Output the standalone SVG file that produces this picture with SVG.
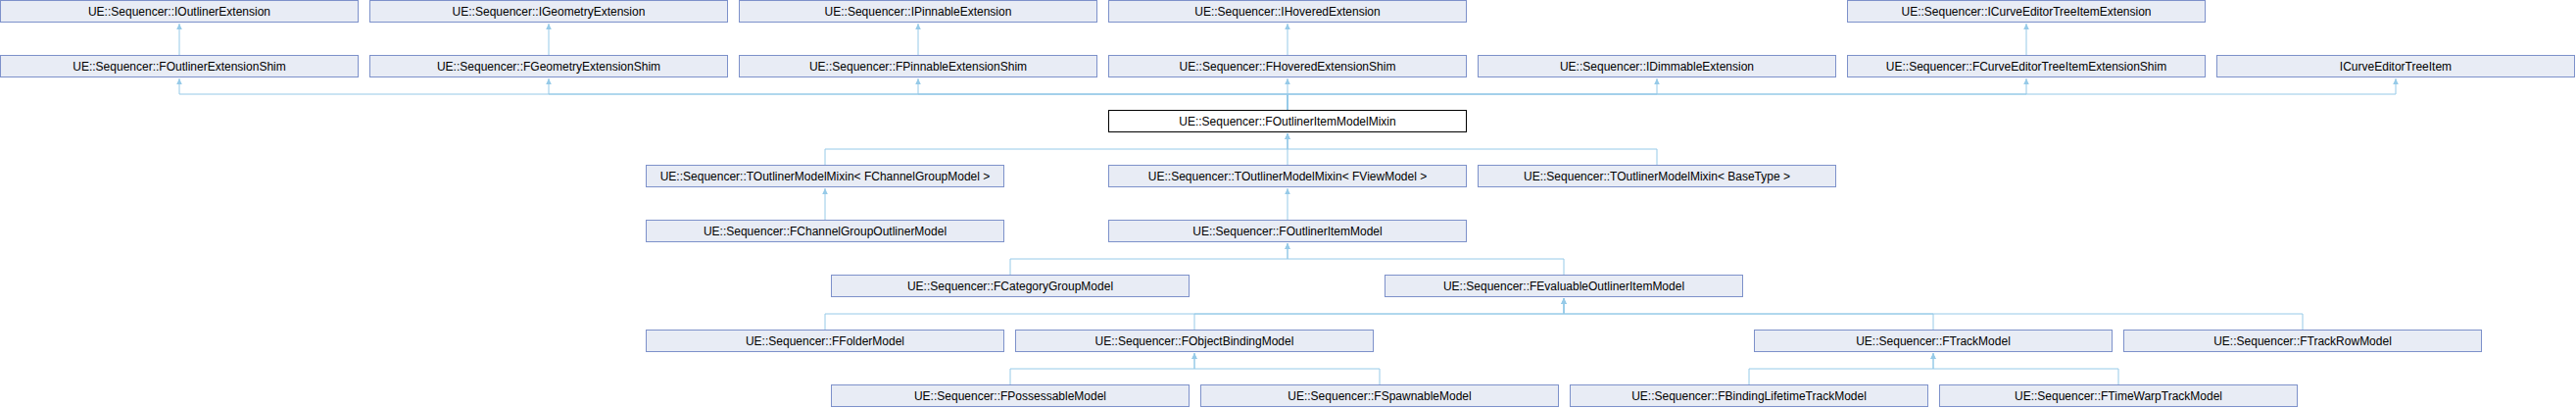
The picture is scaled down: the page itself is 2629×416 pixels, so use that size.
<svg xmlns="http://www.w3.org/2000/svg" width="2629" height="416" viewBox="0 0 2629 416">
<style>
.n rect{fill:#E8ECF5;stroke:#7D91CA;stroke-width:1}
.cur rect{fill:#FFFFFF;stroke:#000000;stroke-width:1}
text{font-family:"Liberation Sans",Arial,sans-serif;font-size:12px;fill:#000;text-anchor:middle}
#edges path{fill:none;stroke:#96CAE8;stroke-width:1;marker-end:url(#ah)}
</style>
<defs>
<marker id="ah" markerUnits="userSpaceOnUse" markerWidth="6" markerHeight="6" viewBox="0 0 6 6" refX="6" refY="3" orient="auto">
<path d="M0,0.2 L6,3 L0,5.8 z" fill="#96CAE8"/>
</marker>
</defs>
<rect width="2629" height="416" fill="#FFFFFF"/>
<g id="edges">
<path d="M183,56.5 V24"/>
<path d="M560,56.5 V24"/>
<path d="M937,56.5 V24"/>
<path d="M1314,56.5 V24"/>
<path d="M2068,56.5 V24"/>
<path d="M1314,112.5 V96 H183 V80"/>
<path d="M1314,112.5 V96 H560 V80"/>
<path d="M1314,112.5 V96 H937 V80"/>
<path d="M1314,112.5 V80"/>
<path d="M1314,112.5 V96 H1691 V80"/>
<path d="M1314,112.5 V96 H2068 V80"/>
<path d="M1314,112.5 V96 H2445 V80"/>
<path d="M842,168.5 V152 H1314 V136"/>
<path d="M1314,168.5 V136"/>
<path d="M1691,168.5 V152 H1314 V136"/>
<path d="M842,224.5 V192"/>
<path d="M1314,224.5 V192"/>
<path d="M1031,280.5 V264 H1314 V248"/>
<path d="M1596,280.5 V264 H1314 V248"/>
<path d="M842,336.5 V320 H1596 V304"/>
<path d="M1219,336.5 V320 H1596 V304"/>
<path d="M1973,336.5 V320 H1596 V304"/>
<path d="M2350,336.5 V320 H1596 V304"/>
<path d="M1031,392.5 V376 H1219 V360"/>
<path d="M1408,392.5 V376 H1219 V360"/>
<path d="M1785,392.5 V376 H1973 V360"/>
<path d="M2162,392.5 V376 H1973 V360"/>
</g>
<g id="IOutlinerExtension" class="n"><rect x="0.5" y="0.5" width="365" height="22"/><text x="183" y="16">UE::Sequencer::IOutlinerExtension</text></g>
<g id="IGeometryExtension" class="n"><rect x="377.5" y="0.5" width="365" height="22"/><text x="560" y="16">UE::Sequencer::IGeometryExtension</text></g>
<g id="IPinnableExtension" class="n"><rect x="754.5" y="0.5" width="365" height="22"/><text x="937" y="16">UE::Sequencer::IPinnableExtension</text></g>
<g id="IHoveredExtension" class="n"><rect x="1131.5" y="0.5" width="365" height="22"/><text x="1314" y="16">UE::Sequencer::IHoveredExtension</text></g>
<g id="ICurveEditorTreeItemExtension" class="n"><rect x="1885.5" y="0.5" width="365" height="22"/><text x="2068" y="16">UE::Sequencer::ICurveEditorTreeItemExtension</text></g>
<g id="FOutlinerExtensionShim" class="n"><rect x="0.5" y="56.5" width="365" height="22"/><text x="183" y="72">UE::Sequencer::FOutlinerExtensionShim</text></g>
<g id="FGeometryExtensionShim" class="n"><rect x="377.5" y="56.5" width="365" height="22"/><text x="560" y="72">UE::Sequencer::FGeometryExtensionShim</text></g>
<g id="FPinnableExtensionShim" class="n"><rect x="754.5" y="56.5" width="365" height="22"/><text x="937" y="72">UE::Sequencer::FPinnableExtensionShim</text></g>
<g id="FHoveredExtensionShim" class="n"><rect x="1131.5" y="56.5" width="365" height="22"/><text x="1314" y="72">UE::Sequencer::FHoveredExtensionShim</text></g>
<g id="IDimmableExtension" class="n"><rect x="1508.5" y="56.5" width="365" height="22"/><text x="1691" y="72">UE::Sequencer::IDimmableExtension</text></g>
<g id="FCurveEditorTreeItemExtensionShim" class="n"><rect x="1885.5" y="56.5" width="365" height="22"/><text x="2068" y="72">UE::Sequencer::FCurveEditorTreeItemExtensionShim</text></g>
<g id="ICurveEditorTreeItem" class="n"><rect x="2262.5" y="56.5" width="365" height="22"/><text x="2445" y="72">ICurveEditorTreeItem</text></g>
<g id="FOutlinerItemModelMixin" class="cur"><rect x="1131.5" y="112.5" width="365" height="22"/><text x="1314" y="128">UE::Sequencer::FOutlinerItemModelMixin</text></g>
<g id="TOutlinerModelMixin_FChannelGroupModel" class="n"><rect x="659.5" y="168.5" width="365" height="22"/><text x="842" y="184">UE::Sequencer::TOutlinerModelMixin&lt; FChannelGroupModel &gt;</text></g>
<g id="TOutlinerModelMixin_FViewModel" class="n"><rect x="1131.5" y="168.5" width="365" height="22"/><text x="1314" y="184">UE::Sequencer::TOutlinerModelMixin&lt; FViewModel &gt;</text></g>
<g id="TOutlinerModelMixin_BaseType" class="n"><rect x="1508.5" y="168.5" width="365" height="22"/><text x="1691" y="184">UE::Sequencer::TOutlinerModelMixin&lt; BaseType &gt;</text></g>
<g id="FChannelGroupOutlinerModel" class="n"><rect x="659.5" y="224.5" width="365" height="22"/><text x="842" y="240">UE::Sequencer::FChannelGroupOutlinerModel</text></g>
<g id="FOutlinerItemModel" class="n"><rect x="1131.5" y="224.5" width="365" height="22"/><text x="1314" y="240">UE::Sequencer::FOutlinerItemModel</text></g>
<g id="FCategoryGroupModel" class="n"><rect x="848.5" y="280.5" width="365" height="22"/><text x="1031" y="296">UE::Sequencer::FCategoryGroupModel</text></g>
<g id="FEvaluableOutlinerItemModel" class="n"><rect x="1413.5" y="280.5" width="365" height="22"/><text x="1596" y="296">UE::Sequencer::FEvaluableOutlinerItemModel</text></g>
<g id="FFolderModel" class="n"><rect x="659.5" y="336.5" width="365" height="22"/><text x="842" y="352">UE::Sequencer::FFolderModel</text></g>
<g id="FObjectBindingModel" class="n"><rect x="1036.5" y="336.5" width="365" height="22"/><text x="1219" y="352">UE::Sequencer::FObjectBindingModel</text></g>
<g id="FTrackModel" class="n"><rect x="1790.5" y="336.5" width="365" height="22"/><text x="1973" y="352">UE::Sequencer::FTrackModel</text></g>
<g id="FTrackRowModel" class="n"><rect x="2167.5" y="336.5" width="365" height="22"/><text x="2350" y="352">UE::Sequencer::FTrackRowModel</text></g>
<g id="FPossessableModel" class="n"><rect x="848.5" y="392.5" width="365" height="22"/><text x="1031" y="408">UE::Sequencer::FPossessableModel</text></g>
<g id="FSpawnableModel" class="n"><rect x="1225.5" y="392.5" width="365" height="22"/><text x="1408" y="408">UE::Sequencer::FSpawnableModel</text></g>
<g id="FBindingLifetimeTrackModel" class="n"><rect x="1602.5" y="392.5" width="365" height="22"/><text x="1785" y="408">UE::Sequencer::FBindingLifetimeTrackModel</text></g>
<g id="FTimeWarpTrackModel" class="n"><rect x="1979.5" y="392.5" width="365" height="22"/><text x="2162" y="408">UE::Sequencer::FTimeWarpTrackModel</text></g>
</svg>
